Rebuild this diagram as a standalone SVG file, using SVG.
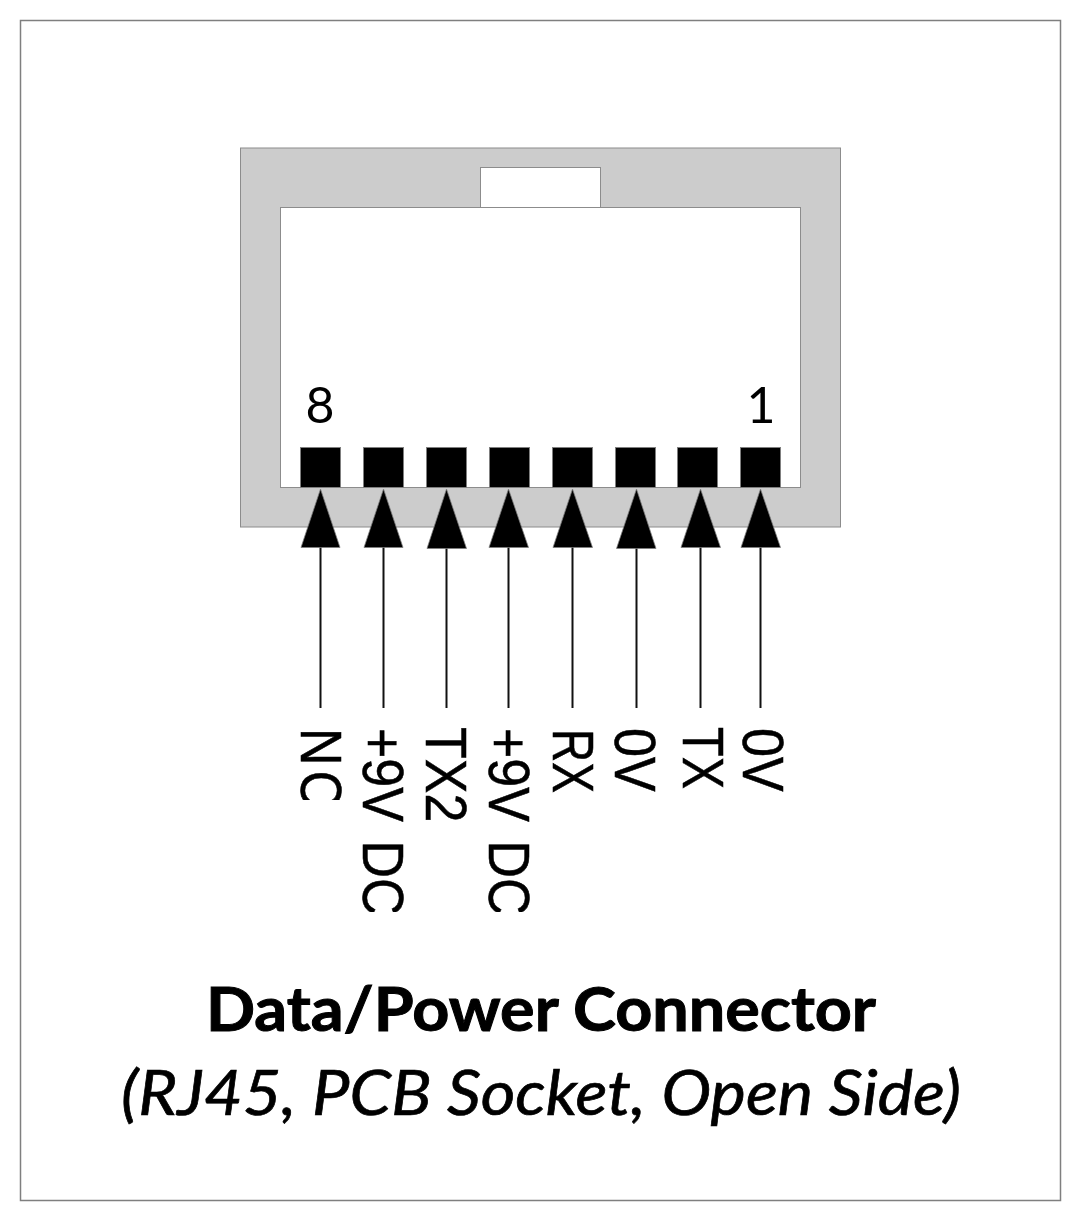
<svg xmlns="http://www.w3.org/2000/svg" width="1080" height="1220" viewBox="0 0 1080 1220">
<style>
text{font-family:"Lato","Open Sans",sans-serif;fill:#000}
.pin{fill:#000;stroke:#7f7f7f}
.lab{font-family:"Liberation Sans",Arial,sans-serif;font-size:52px;stroke:#000;stroke-width:.5}
.wire{stroke:#111;stroke-width:2;fill:none}
.ah{fill:#000;stroke:#7f7f7f;stroke-width:.75}
.sh{stroke:#8c8c8c}
.bold{font-size:62px;font-weight:700;stroke:#000;stroke-width:1}
.ital{font-size:62px;font-style:italic;stroke:#000;stroke-width:.7}
</style>
<defs>
<clipPath id="clipNC"><rect x="290" y="720" width="60" height="80"/></clipPath>
<clipPath id="clipDC"><rect x="350" y="720" width="190" height="192"/></clipPath>
</defs>
<rect width="1080" height="1220" fill="#fff"/>
<rect id="frame" x="20.500" y="20.500" width="1040" height="1180" fill="#fff" stroke="#7f7f7f" stroke-width="1.500"/>
<g id="socket">
<rect class="sh" x="240.500" y="148" width="600" height="379" fill="#ccc"/>
<rect class="sh" x="280.500" y="207.500" width="520" height="280" fill="#fff"/>
<rect class="sh" x="480.500" y="167.500" width="120" height="40" fill="#fff"/>
</g>
<g id="pins">
<rect class="pin" x="300.500" y="447.500" width="40" height="40"/>
<rect class="pin" x="363.500" y="447.500" width="40" height="40"/>
<rect class="pin" x="426.500" y="447.500" width="40" height="40"/>
<rect class="pin" x="489.500" y="447.500" width="40" height="40"/>
<rect class="pin" x="552.500" y="447.500" width="40" height="40"/>
<rect class="pin" x="615.500" y="447.500" width="40" height="40"/>
<rect class="pin" x="677.500" y="447.500" width="40" height="40"/>
<rect class="pin" x="740.500" y="447.500" width="40" height="40"/>
</g>
<g id="connectors">
<g><path class="wire" d="M320.500 708V540"/><path class="ah" d="M320.500 489L340 547.500H301Z"/></g>
<g><path class="wire" d="M383.500 708V540"/><path class="ah" d="M383.500 489L403 547.500H364Z"/></g>
<g><path class="wire" d="M446.500 708V540"/><path class="ah" d="M446.500 489L466.500 548.500H427Z"/></g>
<g><path class="wire" d="M508.500 708V540"/><path class="ah" d="M508.500 489L528.500 547.500H489Z"/></g>
<g><path class="wire" d="M572.500 708V540"/><path class="ah" d="M572.500 489L592.500 547.500H553Z"/></g>
<g><path class="wire" d="M636.500 708V540"/><path class="ah" d="M636.500 489L656 548.500H616.500Z"/></g>
<g><path class="wire" d="M700.500 708V540"/><path class="ah" d="M700.500 489L720.500 547.500H681Z"/></g>
<g><path class="wire" d="M760.500 708V540"/><path class="ah" d="M760.500 489L780.500 547.500H741Z"/></g>
</g>
<g id="pin-numbers">
<text x="320" y="423" font-size="50" text-anchor="middle">8</text>
<text x="761" y="423" font-size="50" text-anchor="middle">1</text>
</g>
<g id="pin-labels">
<g clip-path="url(#clipNC)"><text class="lab" transform="translate(300.500 728) rotate(90) scale(1 1.1)">N<tspan dx="5">C</tspan></text></g>
<g clip-path="url(#clipDC)"><text class="lab" word-spacing="4" transform="translate(363 728) rotate(90) scale(1 1.1)">+9V DC</text>
<text class="lab" word-spacing="4" transform="translate(488.500 728) rotate(90) scale(1 1.1)">+9V DC</text></g>
<text class="lab" transform="translate(426 727) rotate(90) scale(1 1.1)">TX2</text>
<text class="lab" textLength="64" lengthAdjust="spacingAndGlyphs" transform="translate(552.500 729) rotate(90) scale(1 1.1)">RX</text>
<text class="lab" transform="translate(615 728) rotate(90) scale(1 1.1)">0V</text>
<text class="lab" textLength="62" lengthAdjust="spacingAndGlyphs" transform="translate(682.500 727) rotate(90) scale(1 1.1)">TX</text>
<text class="lab" transform="translate(743 728) rotate(90) scale(1 1.1)">0V</text>
</g>
<g id="caption">
<text class="bold" x="541" y="1031" text-anchor="middle" textLength="670" lengthAdjust="spacingAndGlyphs">Data/Power Connector</text>
<text class="ital" x="541" y="1115" text-anchor="middle" textLength="840" lengthAdjust="spacingAndGlyphs">(RJ45, PCB Socket, Open Side)</text>
</g>
</svg>
